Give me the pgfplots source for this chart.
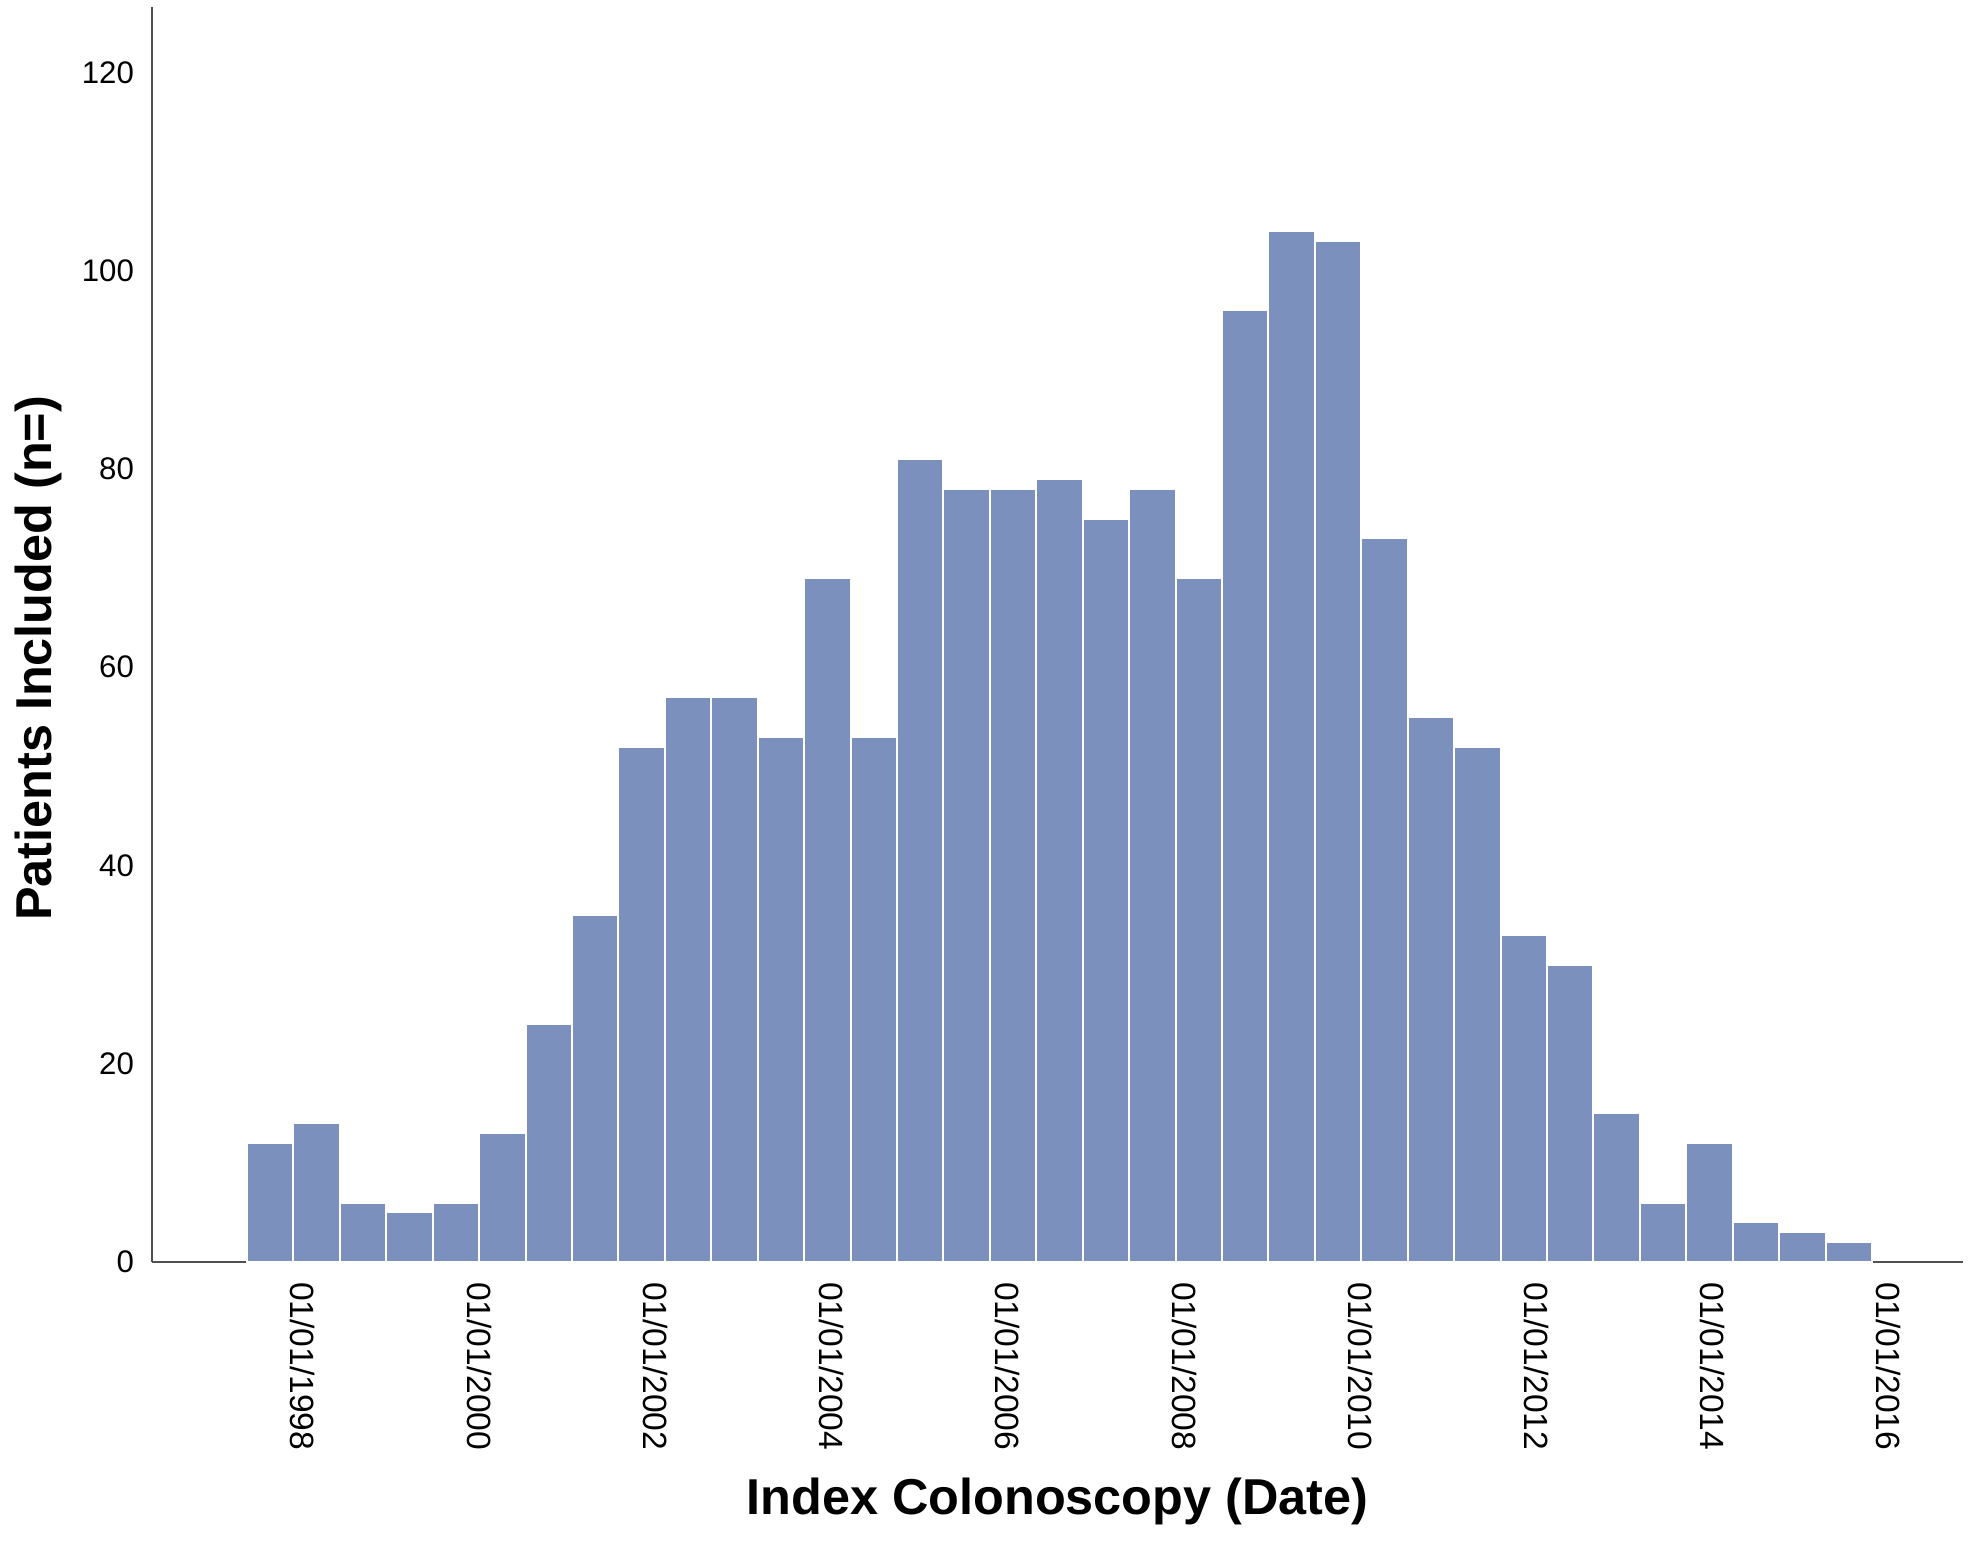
\documentclass[border=0pt]{standalone}
\usepackage{pgfplots}
\pgfplotsset{compat=1.18}
\usepackage{fontspec}
\setmainfont{Liberation Sans}
\definecolor{barc}{RGB}{124,144,189}
\definecolor{axc}{RGB}{80,80,80}
\begin{document}
\begin{tikzpicture}
\begin{axis}[
  name=ax,
  scale only axis,
  width=452.75pt, height=313.75pt,
  xmin=1996.286, xmax=2016.842,
  ymin=0, ymax=126.6,
  axis x line*=bottom, axis y line*=left,
  axis line style={axc, line width=0.6pt},
  major tick length=0pt,
  xtick={1998,2000,2002,2004,2006,2008,2010,2012,2014,2016},
  xticklabels={01/01/1998,01/01/2000,01/01/2002,01/01/2004,01/01/2006,01/01/2008,01/01/2010,01/01/2012,01/01/2014,01/01/2016},
  xticklabel style={rotate=-90, anchor=west, font=\fontsize{8.4}{9}\selectfont},
  ytick={0,20,40,60,80,100,120},
  yticklabel style={font=\fontsize{7.8}{9}\selectfont},
  /pgf/number format/assume math mode=true,
  xticklabel shift=1.5pt, yticklabel shift=1pt,
  xlabel={\bfseries Index Colonoscopy (Date)},
  ylabel={\bfseries Patients Included (n=)},
  xlabel style={font=\fontsize{12.6}{14}\selectfont, at={(axis description cs:0.5,-0.191)}, anchor=center},
  ylabel style={font=\fontsize{12.6}{14}\selectfont, at={(axis description cs:-0.0629,0.481)}, anchor=center},
  clip=false,
]
\addplot[ybar, bar width=0.527, bar shift=0pt, fill=barc, draw=white, line width=0.5pt] table {
x y
1997.628 12
1998.155 14
1998.682 6
1999.209 5
1999.736 6
2000.263 13
2000.790 24
2001.317 35
2001.844 52
2002.371 57
2002.898 57
2003.425 53
2003.952 69
2004.479 53
2005.006 81
2005.533 78
2006.060 78
2006.587 79
2007.114 75
2007.641 78
2008.168 69
2008.695 96
2009.222 104
2009.749 103
2010.276 73
2010.803 55
2011.330 52
2011.857 33
2012.384 30
2012.911 15
2013.438 6
2013.965 12
2014.492 4
2015.019 3
2015.546 2
};
\end{axis}
\pgfresetboundingbox
\path[use as bounding box] ([shift={(-38pt,-69.75pt)}]ax.south west) rectangle ([shift={(4pt,1.75pt)}]ax.north east);
\end{tikzpicture}
\end{document}
